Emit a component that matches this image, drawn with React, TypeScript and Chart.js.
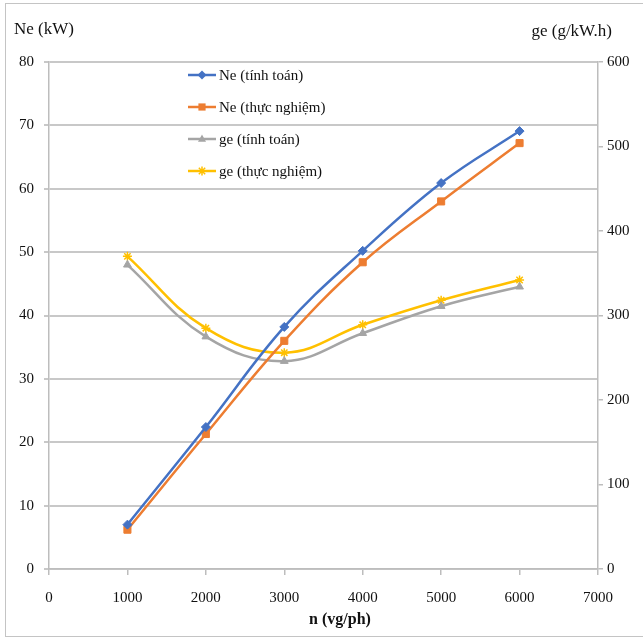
import React, { useEffect, useRef } from "react";
import { Chart, registerables } from "chart.js";

Chart.register(...registerables);

const rpm = [1000, 2000, 3000, 4000, 5000, 6000];
const neCalc = [7, 22.4, 38.2, 50.2, 60.9, 69.1];
const neExp = [6.2, 21.3, 36, 48.4, 58, 67.2];
const geCalc = [360, 275, 246, 279, 311, 334];
const geExp = [370, 285, 256, 289, 318, 342];

const xTicks = [0, 1000, 2000, 3000, 4000, 5000, 6000, 7000];
const leftTitle = "Ne (kW)";
const rightTitle = "ge (g/kW.h)";
const xTitle = "n (vg/ph)";
const labels = ["Ne (tính toán)", "Ne (thực nghiệm)", "ge (tính toán)", "ge (thực nghiệm)"];

const COLORS = ["#4472C4", "#ED7D31", "#A5A5A5", "#FFC000"];
const STYLES = ["rectRot", "rect", "triangle", "star"];
const FONT = "'Liberation Serif', 'Times New Roman', serif";

const toXY = (ys: number[]) => rpm.map((x, i) => ({ x, y: ys[i] }));

function marker(ctx: CanvasRenderingContext2D, style: string, x: number, y: number, r: number, color: string) {
  ctx.save();
  ctx.fillStyle = color;
  ctx.strokeStyle = color;
  ctx.lineWidth = 1.5;
  ctx.beginPath();
  if (style === "rectRot") {
    ctx.moveTo(x, y - r); ctx.lineTo(x + r, y); ctx.lineTo(x, y + r); ctx.lineTo(x - r, y); ctx.closePath(); ctx.fill();
  } else if (style === "rect") {
    ctx.rect(x - r * 0.8, y - r * 0.8, r * 1.6, r * 1.6); ctx.fill();
  } else if (style === "triangle") {
    ctx.moveTo(x, y - r); ctx.lineTo(x + r * 0.9, y + r * 0.6); ctx.lineTo(x - r * 0.9, y + r * 0.6); ctx.closePath(); ctx.fill();
  } else {
    for (let k = 0; k < 4; k++) {
      const a = (k * Math.PI) / 4;
      ctx.moveTo(x - r * Math.cos(a), y - r * Math.sin(a));
      ctx.lineTo(x + r * Math.cos(a), y + r * Math.sin(a));
    }
    ctx.stroke();
  }
  ctx.restore();
}

const overlay = {
  id: "overlay",
  afterDraw(chart: any) {
    const ctx = chart.ctx;
    ctx.save();
    ctx.fillStyle = "#111";
    ctx.font = `17px ${FONT}`;
    ctx.textBaseline = "middle";
    ctx.textAlign = "left";
    ctx.fillText(leftTitle, 14, 30);
    ctx.textAlign = "right";
    ctx.fillText(rightTitle, 612, 32);
    ctx.textAlign = "center";
    ctx.font = `bold 16px ${FONT}`;
    ctx.fillText(xTitle, 340, 620);

    const lx = 188;
    const ys = [75, 107, 139, 171];
    ctx.font = `15px ${FONT}`;
    ctx.textAlign = "left";
    chart.data.datasets.forEach((ds: any, i: number) => {
      const y = ys[i];
      ctx.strokeStyle = ds.borderColor;
      ctx.lineWidth = 2.5;
      ctx.beginPath();
      ctx.moveTo(lx, y);
      ctx.lineTo(lx + 28, y);
      ctx.stroke();
      marker(ctx, ds.pointStyle, lx + 14, y, 4.5, ds.borderColor);
      ctx.fillStyle = "#111";
      ctx.fillText(ds.label, lx + 31, y + 1);
    });
    ctx.restore();
  },
};

export default function App() {
  const ref = useRef<HTMLCanvasElement>(null);
  useEffect(() => {
    const datasets = [neCalc, neExp, geCalc, geExp].map((d, i) => ({
      label: labels[i],
      data: toXY(d),
      yAxisID: i < 2 ? "y" : "y1",
      borderColor: COLORS[i],
      backgroundColor: COLORS[i],
      pointBackgroundColor: COLORS[i],
      pointBorderColor: COLORS[i],
      pointStyle: STYLES[i],
      pointRadius: i === 1 ? 5 : 4.5,
      pointBorderWidth: i === 3 ? 1.5 : 1,
      borderWidth: 2.5,
      tension: 0.4,
      cubicInterpolationMode: "default",
    }));
    const tickFont = { family: FONT, size: 15 };
    const chart = new Chart(ref.current!, {
      type: "line",
      data: { datasets } as any,
      plugins: [overlay],
      options: {
        animation: false,
        responsive: false,
        layout: { padding: { top: 62, right: 0, left: 0, bottom: 0 } },
        plugins: { legend: { display: false }, tooltip: { enabled: false } },
        scales: {
          x: {
            type: "linear",
            min: 0,
            max: 7000,
            afterBuildTicks: (s: any) => { s.ticks = xTicks.map((v) => ({ value: v })); },
            afterFit: (s: any) => { s.height = 71; },
            ticks: { font: tickFont, color: "#111", padding: 14, callback: (v: any) => String(v) },
            grid: { display: true, drawOnChartArea: false, color: "#bdbdbd", tickLength: 6, lineWidth: 1.5 },
            border: { color: "#bdbdbd", width: 1.5 },
          },
          y: {
            position: "left",
            min: 0,
            max: 80,
            ticks: { stepSize: 10, font: tickFont, color: "#111", padding: 10 },
            afterFit: (s: any) => { s.width = 49; },
            grid: { color: "#c8c8c8", lineWidth: 2, tickLength: 5 },
            border: { color: "#bdbdbd", width: 1.5 },
          },
          y1: {
            position: "right",
            min: 0,
            max: 600,
            ticks: { stepSize: 100, font: tickFont, color: "#111", padding: 4 },
            afterFit: (s: any) => { s.width = 45; },
            grid: { drawOnChartArea: false, color: "#bdbdbd", tickLength: 5, lineWidth: 1.5 },
            border: { color: "#bdbdbd", width: 1.5 },
          },
        },
      } as any,
    });
    return () => chart.destroy();
  }, []);
  return (
    <div style={{ position: "fixed", left: 0, top: 0, width: 643, height: 640, background: "#fff" }}>
      <div style={{ position: "absolute", left: 5, top: 3, width: 660, height: 632, border: "1px solid #c4c4c4" }} />
      <canvas ref={ref} width={643} height={640} style={{ position: "absolute", left: 0, top: 0 }} />
    </div>
  );
}
